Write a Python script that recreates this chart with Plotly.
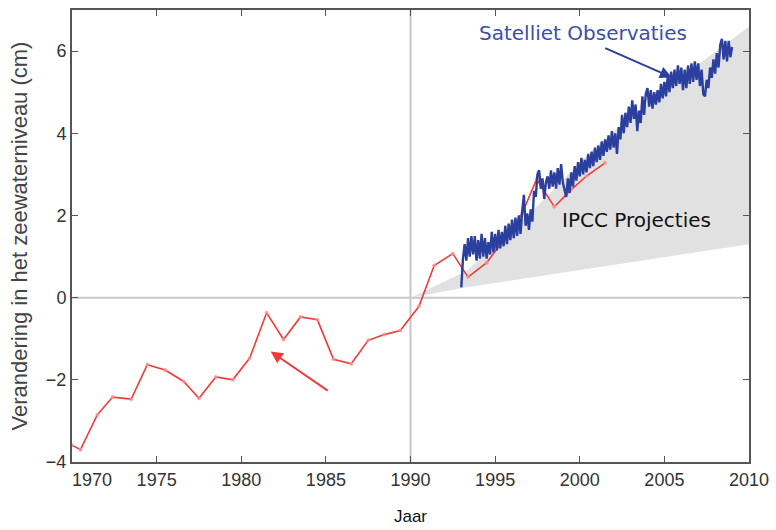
import plotly.graph_objects as go

# ---------------- data ----------------
gauge_years = [1970.0, 1970.5, 1971.5, 1972.4, 1973.5, 1974.45, 1975.5, 1976.6, 1977.5,
               1978.5, 1979.5, 1980.5, 1981.5, 1982.5, 1983.5, 1984.5, 1985.45, 1986.5,
               1987.5, 1988.45, 1989.4, 1990.5, 1991.4, 1992.5, 1993.4, 1994.5, 1995.5,
               1996.6, 1997.45, 1998.5, 1999.5, 2000.4, 2001.5]
gauge_values = [-3.59, -3.7, -2.85, -2.42, -2.47, -1.63, -1.76, -2.04, -2.45,
                -1.93, -2.0, -1.47, -0.37, -1.02, -0.47, -0.54, -1.5, -1.61,
                -1.04, -0.9, -0.8, -0.21, 0.78, 1.07, 0.5, 0.85, 1.4,
                2.05, 2.88, 2.21, 2.63, 2.96, 3.28]

sat_start = 1993.0
sat_step = 0.1
sat_values = [
    0.25, 0.95, 1.3, 0.9, 1.45, 1.0, 1.5, 1.05, 1.5, 0.9,
    1.4, 0.95, 1.55, 1.0, 1.45, 0.95, 1.35, 1.05, 1.6, 1.1,
    1.55, 1.15, 1.65, 1.2, 1.6, 1.25, 1.75, 1.3, 1.8, 1.4,
    1.9, 1.45, 1.95, 1.5, 2.0, 1.55, 2.1, 2.5, 1.75, 2.05,
    1.65, 2.15, 1.85, 2.6, 2.45, 3.0, 3.1, 2.65, 2.9, 2.4,
    2.8, 2.95, 2.65, 3.1, 2.7, 3.05, 2.65, 3.15, 2.75, 3.25,
    2.8, 2.65, 2.45, 2.9, 2.55, 3.05, 2.7, 3.2, 2.85, 3.3,
    2.95, 3.4, 3.0, 3.35, 3.05, 3.5, 3.15, 3.55, 3.2, 3.65,
    3.3, 3.7, 3.35, 3.8, 3.45, 3.85, 3.55, 3.95, 3.6, 4.05,
    3.65, 4.0, 3.5, 4.15, 3.85, 4.45, 4.0, 4.5, 4.15, 4.65,
    4.25, 4.8, 4.35, 4.7, 4.05, 4.55, 4.25, 4.9, 4.45, 4.95,
    5.1, 4.65, 5.05, 4.6, 5.0, 4.7, 5.05, 4.75, 5.2, 4.85,
    5.25, 4.9, 5.4, 5.0, 5.5, 5.1, 5.55, 5.15, 5.65, 5.2,
    5.6, 5.05, 5.55, 5.1, 5.65, 5.2, 5.7, 5.25, 5.75, 5.3,
    5.7, 5.15, 5.55, 4.95, 4.9, 5.3, 5.1, 5.6, 5.35, 5.8,
    5.45, 5.95, 5.6, 6.15, 6.3, 5.8, 6.25, 5.75, 6.25, 5.85,
    6.1,
]
sat_years = [round(sat_start + sat_step * i, 2) for i in range(len(sat_values))]

ipcc_upper_years = [1990, 1993.3, 1997.3, 2001.0, 2005.8, 2010]
ipcc_upper_values = [0.0, 0.65, 2.15, 3.7, 5.3, 6.6]
ipcc_lower_years = [1990, 1993.3, 2010]
ipcc_lower_values = [0.0, 0.25, 1.3]

x_tickvals = [1970, 1975, 1980, 1985, 1990, 1995, 2000, 2005, 2010]
x_ticktext = ["\u00a0" * 8 + "1970", "1975", "1980", "1985", "1990",
              "1995", "2000", "2005", "2010"]
y_tickvals = [-4, -2, 0, 2, 4, 6]

ref_year = 1990
ref_level = 0

RED = "#ee3b3b"
BLUE = "#2b3f9e"
TEXT_BLUE = "#3b4fa8"

fig = go.Figure()

# IPCC projection band
fig.add_trace(go.Scatter(
    x=ipcc_upper_years + ipcc_lower_years[::-1],
    y=ipcc_upper_values + ipcc_lower_values[::-1],
    fill="toself", fillcolor="#e1e1e1", line=dict(width=0),
    mode="lines", hoverinfo="skip", showlegend=False))

# Tide gauge
fig.add_trace(go.Scatter(
    x=gauge_years, y=gauge_values, mode="lines+markers",
    line=dict(color=RED, width=1.6),
    marker=dict(size=4, color="rgba(245,150,150,0.8)", line=dict(width=0)),
    showlegend=False))

# Satellite
fig.add_trace(go.Scatter(
    x=sat_years, y=sat_values, mode="lines",
    line=dict(color=BLUE, width=2.4), showlegend=False))

# reference lines
fig.add_shape(type="line", xref="x", yref="y", x0=ref_year, x1=ref_year, y0=-4, y1=7,
              line=dict(color="#c8c8c8", width=2), layer="below")
fig.add_shape(type="line", xref="x", yref="y", x0=1970, x1=2010, y0=ref_level, y1=ref_level,
              line=dict(color="#c8c8c8", width=2), layer="below")

# annotations
fig.add_annotation(x=2000.18, y=6.44, text="Satelliet Observaties", showarrow=False,
                   font=dict(family="DejaVu Sans", size=20, color=TEXT_BLUE))
fig.add_annotation(x=2003.33, y=1.9, text="IPCC Projecties", showarrow=False,
                   font=dict(family="DejaVu Sans", size=20, color="#111111"))
fig.add_annotation(x=2005.44, y=5.36, ax=2001.42, ay=6.09, axref="x", ayref="y",
                   xref="x", yref="y", text="", showarrow=True,
                   arrowhead=2, arrowsize=1.2, arrowwidth=2, arrowcolor=BLUE)
fig.add_annotation(x=1981.74, y=-1.31, ax=1985.2, ay=-2.29, axref="x", ayref="y",
                   xref="x", yref="y", text="", showarrow=True,
                   arrowhead=2, arrowsize=1.2, arrowwidth=2, arrowcolor=RED)

fig.update_layout(
    width=776, height=530,
    margin=dict(l=72, r=27, t=10, b=68, autoexpand=False),
    paper_bgcolor="white", plot_bgcolor="white",
    font=dict(family="Liberation Sans, Arial", color="#333333"),
)
fig.update_xaxes(
    range=[1970, 2010], tickvals=x_tickvals, ticktext=x_ticktext,
    showgrid=False, zeroline=False, automargin=False,
    showline=True, linecolor="#555555", linewidth=2, mirror="ticks",
    ticks="inside", ticklen=6, tickcolor="#555555", tickwidth=1,
    tickfont=dict(size=18, color="#333333"),
    title=dict(text="Jaar", font=dict(size=17, color="#111111"), standoff=22),
)
fig.update_yaxes(
    range=[-4, 7], tickvals=y_tickvals,
    showgrid=False, zeroline=False, automargin=False,
    showline=True, linecolor="#555555", linewidth=2, mirror="ticks",
    ticks="inside", ticklen=6, tickcolor="#555555", tickwidth=1,
    tickfont=dict(size=18, color="#333333"),
    title=dict(text="Verandering in het zeewaterniveau (cm)", font=dict(size=22, color="#444444"),
               standoff=12),
)

fig.write_html("out.html", config={"displayModeBar": False},
               post_script="document.body.style.margin='0';")
